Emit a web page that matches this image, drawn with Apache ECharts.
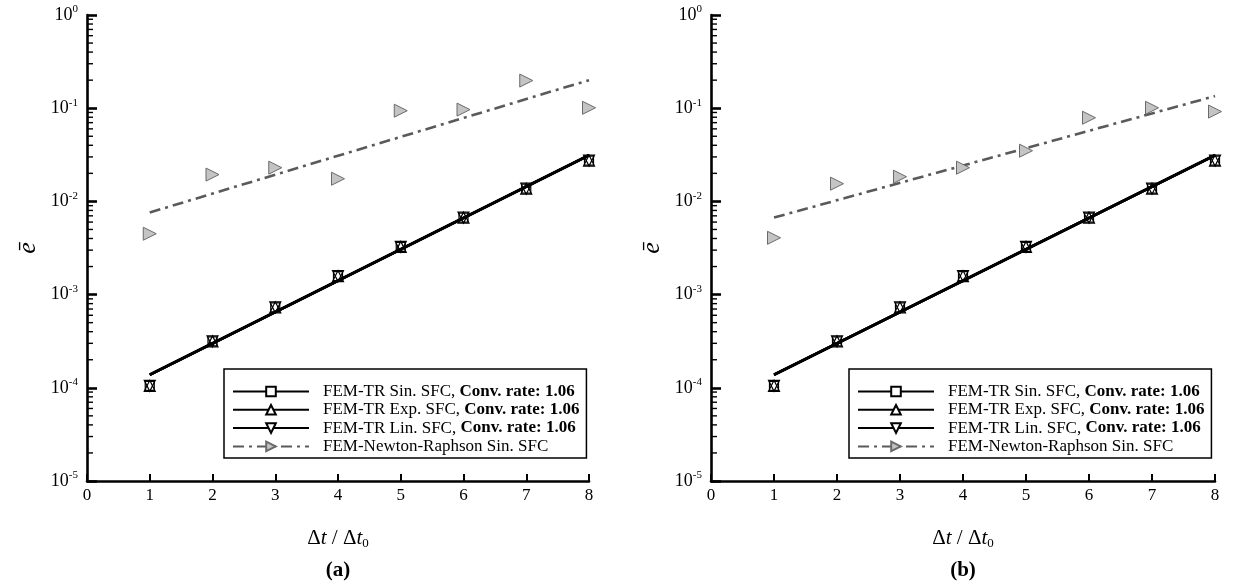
<!DOCTYPE html>
<html>
<head>
<meta charset="utf-8">
<script src="https://cdn.jsdelivr.net/npm/echarts@6/dist/echarts.min.js"></script>
<style>
html,body{margin:0;padding:0;background:#fff;}
#chart{width:1233px;height:588px;}
</style>
</head>
<body>
<div id="chart"></div>
<script>
// ---------- data ----------
const steps = [1, 2, 3, 4, 5, 6, 7, 8];
const fitSteps = [1, 8];
const seriesNames = ['FEM-TR Sin. SFC', 'FEM-TR Exp. SFC', 'FEM-TR Lin. SFC', 'FEM-Newton-Raphson Sin. SFC'];
const convRates = ['1.06', '1.06', '1.06'];
const panelLabels = ['(a)', '(b)'];

// Panel (a)
const sinTR_a = [1.05e-4, 3.15e-4, 7.3e-4, 1.58e-3, 3.25e-3, 6.7e-3, 0.0137, 0.0274];
const expTR_a = [1.05e-4, 3.15e-4, 7.3e-4, 1.58e-3, 3.25e-3, 6.7e-3, 0.0137, 0.0274];
const linTR_a = [1.05e-4, 3.15e-4, 7.3e-4, 1.58e-3, 3.25e-3, 6.7e-3, 0.0137, 0.0274];
const nr_a = [4.5e-3, 0.0194, 0.023, 0.0175, 0.094, 0.0966, 0.198, 0.101];
const fitTR_a = [1.38e-4, 0.0313];
const fitNR_a = [7.6e-3, 0.2];

// Panel (b)
const sinTR_b = [1.05e-4, 3.15e-4, 7.3e-4, 1.58e-3, 3.25e-3, 6.7e-3, 0.0137, 0.0274];
const expTR_b = [1.05e-4, 3.15e-4, 7.3e-4, 1.58e-3, 3.25e-3, 6.7e-3, 0.0137, 0.0274];
const linTR_b = [1.05e-4, 3.15e-4, 7.3e-4, 1.58e-3, 3.25e-3, 6.7e-3, 0.0137, 0.0274];
const nr_b = [4.07e-3, 0.0155, 0.0184, 0.023, 0.035, 0.079, 0.101, 0.092];
const fitTR_b = [1.38e-4, 0.0313];
const fitNR_b = [6.7e-3, 0.135];

// ---------- styling ----------
const FONT = 'Liberation Serif';
const pair = (xs, ys) => xs.map((x, i) => [x, ys[i]]);

const minorVals = [];
for (let e = -5; e < 0; e++) {
  for (let k = 2; k <= 9; k++) minorVals.push([0, k * Math.pow(10, e)]);
}

const trStyles = [
  { symbol: 'rect', size: 9, rotate: 0 },
  { symbol: 'triangle', size: 11, rotate: 0 },
  { symbol: 'triangle', size: 11, rotate: 180 }
];

function panelSeries(idx, trData, trFit, nrData, nrFit) {
  const out = [];
  trData.forEach((d, i) => {
    out.push({
      type: 'line', name: seriesNames[i], xAxisIndex: idx, yAxisIndex: idx,
      data: pair(fitSteps, trFit), showSymbol: false,
      symbol: trStyles[i].symbol, symbolSize: trStyles[i].size, symbolRotate: trStyles[i].rotate,
      lineStyle: { color: '#000', width: 2.6 },
      itemStyle: { color: '#fff', borderColor: '#000', borderWidth: 1.2 },
      z: 3, silent: true
    });
  });
  out.push({
    type: 'line', name: seriesNames[3], xAxisIndex: idx, yAxisIndex: idx,
    data: pair(fitSteps, nrFit), showSymbol: false,
    symbol: 'triangle', symbolSize: 13, symbolRotate: -90,
    lineStyle: { color: '#5a5a5a', width: 2.6, type: [11, 5, 3, 5] },
    itemStyle: { color: '#c4c4c4', borderColor: '#6a6a6a', borderWidth: 1 },
    z: 2, silent: true
  });
  out.push({
    type: 'scatter', name: seriesNames[3], xAxisIndex: idx, yAxisIndex: idx,
    data: pair(steps, nrData), symbol: 'triangle', symbolSize: 13, symbolRotate: -90,
    itemStyle: { color: '#c4c4c4', borderColor: '#6a6a6a', borderWidth: 1, opacity: 1 },
    z: 2, silent: true
  });
  trData.forEach((d, i) => {
    out.push({
      type: 'scatter', name: seriesNames[i], xAxisIndex: idx, yAxisIndex: idx,
      data: pair(steps, d), symbol: trStyles[i].symbol, symbolSize: trStyles[i].size,
      symbolRotate: trStyles[i].rotate,
      itemStyle: { color: 'rgba(255,255,255,0)', borderColor: '#000', borderWidth: 1.2, opacity: 1 },
      z: 4, silent: true
    });
  });
  out.push({
    type: 'custom', xAxisIndex: idx, yAxisIndex: idx, data: minorVals, clip: false, silent: true, z: 10,
    renderItem: function (params, api) {
      const p = api.coord([api.value(0), api.value(1)]);
      return { type: 'line', shape: { x1: p[0], y1: p[1], x2: p[0] + 6, y2: p[1] },
               style: { stroke: '#000', lineWidth: 1.4 } };
    }
  });
  return out;
}

const grids = [
  { left: 87, right: 644, top: 15, bottom: 107 },
  { left: 711, right: 18, top: 15, bottom: 107 }
];

function xAxisFor(idx) {
  return {
    type: 'value', gridIndex: idx, min: 0, max: 8, interval: 1,
    axisLine: { show: true, onZero: false, lineStyle: { color: '#000', width: 2.6 } },
    axisTick: { show: true, inside: true, length: 7, lineStyle: { color: '#000', width: 2 } },
    axisLabel: { margin: 6, color: '#000', fontFamily: FONT, fontSize: 17 },
    splitLine: { show: false },
    name: '{n|\u0394}{i|t}{n| / \u0394}{i|t}{s|0}',
    nameLocation: 'middle', nameGap: 46,
    nameTextStyle: {
      rich: {
        n: { fontFamily: FONT, fontSize: 21, color: '#000' },
        i: { fontFamily: FONT, fontSize: 21, fontStyle: 'italic', color: '#000' },
        s: { fontFamily: FONT, fontSize: 13, color: '#000', padding: [10, 0, 0, 0] }
      }
    }
  };
}

function yAxisFor(idx) {
  return {
    type: 'log', logBase: 10, gridIndex: idx, min: 1e-5, max: 1,
    axisLine: { show: true, onZero: false, lineStyle: { color: '#000', width: 2.6 } },
    axisTick: { show: true, inside: true, length: 10, lineStyle: { color: '#000', width: 2.6 } },
    axisLabel: {
      margin: 9, color: '#000',
      formatter: function (v) {
        const e = Math.round(Math.log10(v));
        return '{b|10}{s|' + e + '}';
      },
      rich: {
        b: { fontFamily: FONT, fontSize: 18, color: '#000' },
        s: { fontFamily: FONT, fontSize: 11, color: '#000', padding: [0, 0, 11, 0] }
      }
    },
    splitLine: { show: false },
    name: '\u0113', nameLocation: 'middle', nameGap: 46, nameRotate: 90,
    nameTextStyle: { fontFamily: FONT, fontStyle: 'italic', fontSize: 26, color: '#000' }
  };
}

function legendFor(left) {
  return {
    data: seriesNames, orient: 'vertical', left: left, top: 369,
    itemWidth: 76, itemHeight: 12, itemGap: 1.3,
    padding: [14, 7, 3, 8],
    borderColor: '#000', borderWidth: 1.5, backgroundColor: '#fff',
    selectedMode: false,
    formatter: function (name) {
      const i = seriesNames.indexOf(name);
      if (i < 3) return '{n|' + name + ', }{b|Conv. rate: ' + convRates[i] + '}';
      return '{n|' + name + '}';
    },
    textStyle: {
      fontFamily: FONT, fontSize: 17, color: '#000', lineHeight: 17,
      rich: {
        n: { fontFamily: FONT, fontSize: 17, color: '#000', padding: [0, 0, 0, 9], lineHeight: 17 },
        b: { fontFamily: FONT, fontSize: 17, fontWeight: 'bold', color: '#000', lineHeight: 17 }
      }
    }
  };
}

const chart = echarts.init(document.getElementById('chart'), null, { renderer: 'canvas' });
chart.setOption({
  animation: false,
  backgroundColor: '#fff',
  grid: grids,
  xAxis: [xAxisFor(0), xAxisFor(1)],
  yAxis: [yAxisFor(0), yAxisFor(1)],
  legend: [legendFor(224), legendFor(849)],
  series: [].concat(
    panelSeries(0, [sinTR_a, expTR_a, linTR_a], fitTR_a, nr_a, fitNR_a),
    panelSeries(1, [sinTR_b, expTR_b, linTR_b], fitTR_b, nr_b, fitNR_b)
  ),
  graphic: [
    { type: 'text', x: 338, y: 571, style: { text: panelLabels[0], font: 'bold 21px "Liberation Serif"', fill: '#000', align: 'center', verticalAlign: 'middle' } },
    { type: 'text', x: 963, y: 571, style: { text: panelLabels[1], font: 'bold 21px "Liberation Serif"', fill: '#000', align: 'center', verticalAlign: 'middle' } }
  ]
});
</script>
</body>
</html>
